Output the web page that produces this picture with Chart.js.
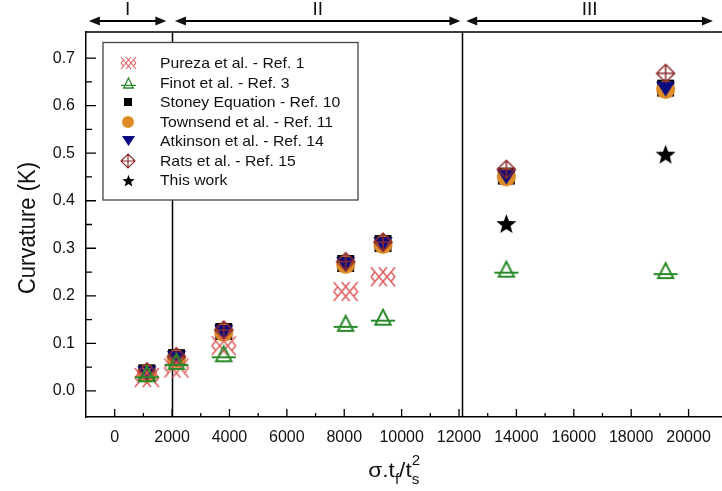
<!DOCTYPE html>
<html>
<head>
<meta charset="utf-8">
<script src="https://cdn.jsdelivr.net/npm/chart.js@4.4.1/dist/chart.umd.min.js"></script>
<style>
  html, body { margin: 0; padding: 0; background: #fff; overflow: hidden; }
  #wrap { width: 730px; height: 491px; }
</style>
</head>
<body>
<div id="wrap"><canvas id="c" width="730" height="491"></canvas></div>
<script>
// ---- data ----
const xVals     = [1120, 2150, 3800, 8050, 9350, 13650, 19200];
const pureza    = [0.028, 0.048, 0.095, 0.209, 0.240];
const finot     = [0.036, 0.062, 0.078, 0.142, 0.155, 0.256, 0.253];
const stoney    = [0.038, 0.070, 0.125, 0.268, 0.310, 0.452, 0.637];
const townsend  = [0.036, 0.068, 0.123, 0.266, 0.308, 0.450, 0.634];
const atkinson  = [0.036, 0.068, 0.123, 0.266, 0.308, 0.450, 0.635];
const rats      = [0.040, 0.072, 0.128, 0.272, 0.313, 0.466, 0.668];
const workX     = [13650, 19200];
const workY     = [0.352, 0.498];

const seriesNames = [
  "Pureza et al. - Ref. 1",
  "Finot et al. - Ref. 3",
  "Stoney Equation - Ref. 10",
  "Townsend et al. - Ref. 11",
  "Atkinson et al. - Ref. 14",
  "Rats et al. - Ref. 15",
  "This work",
];

const xTicks  = [0, 2000, 4000, 6000, 8000, 10000, 12000, 14000, 16000, 18000, 20000];
const xMinor  = [1000, 3000, 5000, 7000, 9000, 11000, 13000, 15000, 17000, 19000];
const yTicks  = [0.0, 0.1, 0.2, 0.3, 0.4, 0.5, 0.6, 0.7];
const yMinor  = [0.05, 0.15, 0.25, 0.35, 0.45, 0.55, 0.65];

const regionLines  = [2000, 12100];
const regionNames  = ["I", "II", "III"];
const regionSpans  = [[-900, 1800], [2100, 12050], [12250, 20850]];

const C = {
  pureza: "#de5a5c",
  finot:  "#2a8a2a",
  stoney: "#000000",
  towns:  "#de8c28",
  atkin:  "#0a0a80",
  rats:   "#8e2c2c",
  star:   "#000000",
  axis:   "#000000",
  text:   "#111111",
};
const FONT = "'Liberation Sans', Arial, sans-serif";

// ---- marker glyphs (small canvases used as point styles) ----
function glyph(w, h, draw) {
  const c = document.createElement("canvas");
  c.width = w + 4; c.height = h + 4;
  const g = c.getContext("2d");
  g.translate(2, 2);
  draw(g, w, h);
  return c;
}
// lattice of crossed lines, like two overlapping X's
const mkPureza = (w, h, lw) => glyph(w, h, (g) => {
  g.strokeStyle = C.pureza; g.lineWidth = lw;
  g.beginPath();
  g.moveTo(0, 0); g.lineTo(2 * w / 3, h);
  g.moveTo(0, h); g.lineTo(2 * w / 3, 0);
  g.moveTo(w / 3, 0); g.lineTo(w, h);
  g.moveTo(w / 3, h); g.lineTo(w, 0);
  g.moveTo(0, h / 2); g.lineTo(w / 6, h / 4);
  g.moveTo(0, h / 2); g.lineTo(w / 6, 3 * h / 4);
  g.moveTo(w, h / 2); g.lineTo(5 * w / 6, h / 4);
  g.moveTo(w, h / 2); g.lineTo(5 * w / 6, 3 * h / 4);
  g.stroke();
});
const mkFinot = (w, h, lw) => glyph(w, h, (g) => {
  g.strokeStyle = C.finot; g.lineWidth = lw;
  g.beginPath();
  g.moveTo(w / 2, 0); g.lineTo(w * 0.82, h); g.lineTo(w * 0.18, h); g.closePath();
  g.moveTo(0, h * 0.74); g.lineTo(w, h * 0.74);
  g.stroke();
});
const mkSquare = (s) => glyph(s, s, (g) => { g.fillStyle = C.stoney; g.fillRect(0, 0, s, s); });
const mkCircle = (d) => glyph(d, d, (g) => {
  g.fillStyle = C.towns; g.beginPath(); g.arc(d / 2, d / 2, d / 2, 0, Math.PI * 2); g.fill();
});
const mkDown = (w, h) => glyph(w, h, (g) => {
  g.fillStyle = C.atkin; g.beginPath();
  g.moveTo(0, 0); g.lineTo(w, 0); g.lineTo(w / 2, h); g.closePath(); g.fill();
});
const mkRats = (s, lw) => glyph(s, s, (g) => {
  g.strokeStyle = C.rats; g.lineWidth = lw;
  g.beginPath();
  g.moveTo(s / 2, 0); g.lineTo(s, s / 2); g.lineTo(s / 2, s); g.lineTo(0, s / 2); g.closePath();
  g.moveTo(s / 2, 0); g.lineTo(s / 2, s);
  g.moveTo(0, s / 2); g.lineTo(s, s / 2);
  g.stroke();
});
const mkStar = (s) => glyph(s, s, (g) => {
  g.fillStyle = C.star; g.beginPath();
  const cx = s / 2, cy = s / 2 + s * 0.05, R = s / 2, r = R * 0.42;
  for (let i = 0; i < 10; i++) {
    const a = -Math.PI / 2 + i * Math.PI / 5;
    const rr = i % 2 ? r : R;
    const px = cx + rr * Math.cos(a), py = cy + rr * Math.sin(a);
    i ? g.lineTo(px, py) : g.moveTo(px, py);
  }
  g.closePath(); g.fill();
});

const plotGlyphs = [
  mkPureza(24, 19, 1.5), mkFinot(24, 15, 2), mkSquare(17), mkCircle(19),
  mkDown(19, 15), mkRats(18, 1.5), mkStar(21),
];
const legendGlyphs = [
  mkPureza(15, 12, 1.1), mkFinot(15, 10, 1.3), mkSquare(8), mkCircle(12),
  mkDown(13, 10), mkRats(14, 1.2), mkStar(13),
];

const pts = (xs, ys) => ys.map((y, i) => ({ x: xs[i], y }));

function ds(i, data, order) {
  return {
    label: seriesNames[i],
    data,
    pointStyle: plotGlyphs[i],
    pointRadius: 6,
    pointHoverRadius: 6,
    order,
  };
}

// ---- custom drawing: frame, inward ticks, regions, legend, titles ----
function sText(ctx, text, x, y, font, align, sx) {
  ctx.save();
  ctx.font = font;
  ctx.textAlign = align;
  ctx.textBaseline = "middle";
  ctx.translate(x, y);
  ctx.scale(sx, 1);
  ctx.fillText(text, 0, 0);
  ctx.restore();
}

const decor = {
  id: "decor",
  beforeDatasetsDraw(chart) {
    const { ctx, chartArea: a, scales: { x } } = chart;
    ctx.save();
    ctx.strokeStyle = C.axis; ctx.lineWidth = 1.5;
    for (const v of regionLines) {
      const px = Math.round(x.getPixelForValue(v)) + 0.5;
      ctx.beginPath(); ctx.moveTo(px, a.top); ctx.lineTo(px, a.bottom); ctx.stroke();
    }
    ctx.restore();
  },
  afterDraw(chart) {
    const { ctx, chartArea: a, scales: { x, y } } = chart;
    ctx.save();
    ctx.strokeStyle = C.axis; ctx.fillStyle = C.text;

    // top frame line
    ctx.lineWidth = 1.5;
    ctx.beginPath(); ctx.moveTo(a.left, a.top); ctx.lineTo(a.right, a.top); ctx.stroke();

    // inward ticks
    ctx.lineWidth = 1.3;
    ctx.beginPath();
    for (const v of xTicks) { const p = x.getPixelForValue(v); ctx.moveTo(p, a.bottom); ctx.lineTo(p, a.bottom - 8); }
    for (const v of xMinor) { const p = x.getPixelForValue(v); ctx.moveTo(p, a.bottom); ctx.lineTo(p, a.bottom - 4); }
    for (const v of yTicks) { const p = y.getPixelForValue(v); ctx.moveTo(a.left, p); ctx.lineTo(a.left + 10, p); }
    for (const v of yMinor) { const p = y.getPixelForValue(v); ctx.moveTo(a.left, p); ctx.lineTo(a.left + 6, p); }
    ctx.stroke();

    // region arrows above the plot
    const ay = 21;
    ctx.lineWidth = 2;
    regionSpans.forEach(([v0, v1], i) => {
      const p0 = x.getPixelForValue(v0), p1 = x.getPixelForValue(v1);
      ctx.beginPath(); ctx.moveTo(p0 + 6, ay); ctx.lineTo(p1 - 6, ay); ctx.stroke();
      ctx.beginPath();
      ctx.moveTo(p0, ay); ctx.lineTo(p0 + 11, ay - 4.5); ctx.lineTo(p0 + 11, ay + 4.5); ctx.closePath();
      ctx.moveTo(p1, ay); ctx.lineTo(p1 - 11, ay - 4.5); ctx.lineTo(p1 - 11, ay + 4.5); ctx.closePath();
      ctx.fill();
      sText(ctx, regionNames[i], (p0 + p1) / 2, 10, `19px ${FONT}`, "center", 1.0);
    });

    // legend box
    const lx = 103, ly = 42.5, lw = 255, lh = 157.5;
    ctx.fillStyle = "#fff";
    ctx.fillRect(lx, ly, lw, lh);
    ctx.strokeStyle = "#444"; ctx.lineWidth = 1.3;
    ctx.strokeRect(lx, ly, lw, lh);
    ctx.fillStyle = C.text;
    seriesNames.forEach((name, i) => {
      const ry = 63 + i * 19.5;
      const g = legendGlyphs[i];
      ctx.drawImage(g, Math.round(128 - g.width / 2), Math.round(ry - g.height / 2));
      sText(ctx, name, 160, ry + 1, `15px ${FONT}`, "left", 1.05);
    });

    // y title
    ctx.save();
    ctx.translate(28, 228);
    ctx.rotate(-Math.PI / 2);
    ctx.scale(1, 1.1);
    ctx.font = `22px ${FONT}`;
    ctx.textAlign = "center"; ctx.textBaseline = "middle";
    ctx.fillText("Curvature (K)", 0, 0);
    ctx.restore();

    // x title: sigma.t_f/t_s^2
    const big = `21px ${FONT}`, small = `14px ${FONT}`, sx = 1.08;
    const parts = [
      ["\u03c3.t", big, 0], ["f", small, 7], ["/t", big, 0], ["s", small, 7], ["2", small, -12],
    ];
    let total = 0;
    const widths = parts.map(([t, f]) => { ctx.font = f; const w = ctx.measureText(t).width * sx; total += w; return w; });
    let cx = 398 - total / 2;
    const base = 477;
    parts.forEach(([t, f, dy], i) => {
      ctx.save();
      ctx.font = f; ctx.textAlign = "left"; ctx.textBaseline = "alphabetic";
      ctx.translate(cx, base + dy); ctx.scale(sx, 1);
      ctx.fillText(t, 0, 0);
      ctx.restore();
      cx += widths[i] - (t === "s" ? widths[i] : 0);
    });
    ctx.restore();
  },
};

Chart.defaults.font.family = FONT;
Chart.defaults.color = C.text;

new Chart(document.getElementById("c"), {
  type: "scatter",
  data: {
    datasets: [
      ds(0, pts(xVals, pureza), 2),
      ds(1, pts(xVals, finot), 1),
      ds(2, pts(xVals, stoney), 6),
      ds(3, pts(xVals, townsend), 5),
      ds(4, pts(xVals, atkinson), 4),
      ds(5, pts(xVals, rats), 3),
      ds(6, pts(workX, workY), 0),
    ],
  },
  options: {
    responsive: false,
    animation: false,
    events: [],
    layout: { padding: { top: 32, right: 0, bottom: 0, left: 0 } },
    plugins: { legend: { display: false }, tooltip: { enabled: false } },
    scales: {
      x: {
        type: "linear",
        min: -1000,
        max: 21200,
        afterBuildTicks: (s) => { s.ticks = xTicks.map(v => ({ value: v })); },
        afterFit: (s) => { s.height = 74; },
        ticks: { autoSkip: false, maxRotation: 0, padding: 11, font: { size: 16 }, callback: v => String(v) },
        grid: { display: false, drawTicks: false },
        border: { display: true, color: C.axis, width: 1.5 },
      },
      y: {
        min: -0.055,
        max: 0.755,
        afterBuildTicks: (s) => { s.ticks = yTicks.map(v => ({ value: v })); },
        afterFit: (s) => { s.width = 86; },
        ticks: { padding: 11, font: { size: 16 }, callback: v => v.toFixed(1) },
        grid: { display: false, drawTicks: false },
        border: { display: true, color: C.axis, width: 1.5 },
      },
    },
  },
  plugins: [decor],
});
</script>
</body>
</html>
